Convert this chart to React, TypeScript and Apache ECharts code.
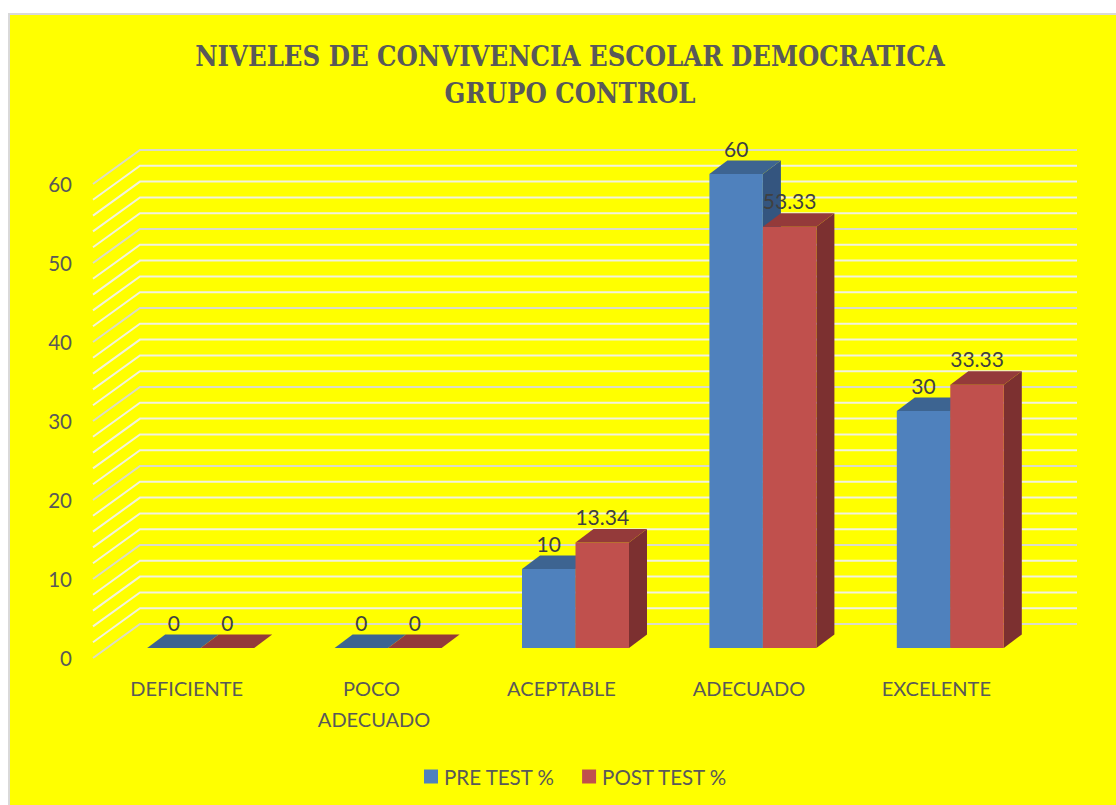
import React, { useEffect, useRef } from "react";
import * as echarts from "echarts";

const categories = ["DEFICIENTE", "POCO ADECUADO", "ACEPTABLE", "ADECUADO", "EXCELENTE"];
const preTest = [0, 0, 10, 60, 30];
const postTest = [0, 0, 13.34, 53.33, 33.33];
const gridTicks = [0, 2, 4, 6, 8, 10, 12, 14, 16, 18, 20, 22, 24, 26, 28, 30, 32, 34, 36, 38, 40, 42, 44, 46, 48, 50, 52, 54, 56, 58, 60];
const majorTicks = [0, 10, 20, 30, 40, 50, 60];

const FONT = "Lato";
const TEXT = "#595959";
const WALL_DX = 47;
const WALL_DY = -34;
const BAR_DX = 14;
const BAR_DY = -10;
const DEPTH_DX = 18;
const DEPTH_DY = -13.5;
const BAR_W = 53.5;

function barRenderer(offsetSign: number, front: string, top: string, side: string) {
  return (params: any, api: any) => {
    const cat = api.value(0);
    const val = api.value(1);
    const base = api.coord([cat, 0]);
    const head = api.coord([cat, val]);
    const x0 = base[0] + BAR_DX + (offsetSign < 0 ? -BAR_W : 0);
    const x1 = x0 + BAR_W;
    const yb = base[1] + BAR_DY;
    const yt = head[1] + BAR_DY;
    const children: any[] = [];
    if (val > 0) {
      children.push({
        type: "polygon",
        shape: { points: [[x1, yb], [x1 + DEPTH_DX, yb + DEPTH_DY], [x1 + DEPTH_DX, yt + DEPTH_DY], [x1, yt]] },
        style: { fill: side },
      });
      children.push({
        type: "rect",
        shape: { x: x0, y: yt, width: BAR_W, height: yb - yt },
        style: { fill: front },
      });
    }
    children.push({
      type: "polygon",
      shape: { points: [[x0, yt], [x1, yt], [x1 + DEPTH_DX, yt + DEPTH_DY], [x0 + DEPTH_DX, yt + DEPTH_DY]] },
      style: { fill: top },
    });
    children.push({
      type: "text",
      z2: 100,
      style: {
        text: String(val),
        x: (x0 + x1) / 2,
        y: yt - 26,
        align: "center",
        verticalAlign: "middle",
        fill: "#404040",
        font: `21px ${FONT}`,
      },
    });
    return { type: "group", children };
  };
}

export default function App() {
  const ref = useRef<HTMLDivElement>(null);
  useEffect(() => {
    const chart = echarts.init(ref.current!, undefined, { renderer: "svg" });
    chart.setOption({
      animation: false,
      backgroundColor: "#ffffff",
      graphic: [
        {
          type: "rect",
          z: -10,
          shape: { x: 9, y: 14, width: 1120, height: 800 },
          style: { fill: "#ffff00", stroke: "#d9d9d9", lineWidth: 2 },
        },
      ],
      title: {
        text: "NIVELES DE CONVIVENCIA ESCOLAR DEMOCRATICA\nGRUPO CONTROL",
        left: 565,
        top: 32,
        textAlign: "center",
        textStyle: {
          fontFamily: "DejaVu Serif Condensed",
          fontWeight: "bold",
          fontSize: 27.2,
          lineHeight: 37,
          color: TEXT,
        },
      },
      legend: {
        left: 419,
        top: 761,
        icon: "rect",
        itemWidth: 14,
        itemHeight: 14,
        itemGap: 27,
        data: ["PRE TEST %", "POST TEST %"],
        textStyle: { fontFamily: FONT, fontSize: 20.5, color: TEXT, padding: [0, 0, 0, 1] },
      },
      grid: { left: 93, width: 937, top: 184, height: 474 },
      xAxis: {
        type: "category",
        data: categories,
        axisLine: { show: false },
        axisTick: { show: false },
        splitLine: { show: false },
        axisLabel: {
          fontFamily: FONT,
          fontSize: 20,
          color: TEXT,
          margin: 14,
          lineHeight: 31,
          width: 135,
          overflow: "break",
          interval: 0,
        },
      },
      yAxis: {
        type: "value",
        min: 0,
        max: 60,
        interval: 10,
        axisLine: { show: false },
        axisTick: { show: false },
        splitLine: { show: false },
        axisLabel: { fontFamily: FONT, fontSize: 20.5, color: TEXT, margin: 21 },
      },
      series: [
        {
          type: "custom",
          name: "walls",
          silent: true,
          clip: false,
          z: 1,
          data: gridTicks.map((t) => [0, t]),
          renderItem: (params: any, api: any) => {
            const v = api.value(1);
            const y = api.coord([0, v])[1];
            const cs = params.coordSys;
            const major = majorTicks.includes(v);
            return {
              type: "polyline",
              shape: {
                points: [
                  [cs.x, y],
                  [cs.x + WALL_DX, y + WALL_DY],
                  [cs.x + WALL_DX + cs.width, y + WALL_DY],
                ],
              },
              style: { fill: "none", stroke: major ? "#dcdcc8" : "#f2f2e0", lineWidth: 2 },
            };
          },
        },
        {
          type: "custom",
          name: "PRE TEST %",
          clip: false,
          z: 2,
          itemStyle: { color: "#4f81bd" },
          data: preTest.map((v, i) => [i, v]),
          renderItem: barRenderer(-1, "#4f81bd", "#3d6491", "#34557f"),
        },
        {
          type: "custom",
          name: "POST TEST %",
          clip: false,
          z: 3,
          itemStyle: { color: "#c0504d" },
          data: postTest.map((v, i) => [i, v]),
          renderItem: barRenderer(1, "#c0504d", "#943a3a", "#7c3030"),
        },
      ],
    });
    return () => chart.dispose();
  }, []);
  return <div ref={ref} style={{ position: "fixed", left: 0, top: 0, width: 1116, height: 805 }} />;
}
